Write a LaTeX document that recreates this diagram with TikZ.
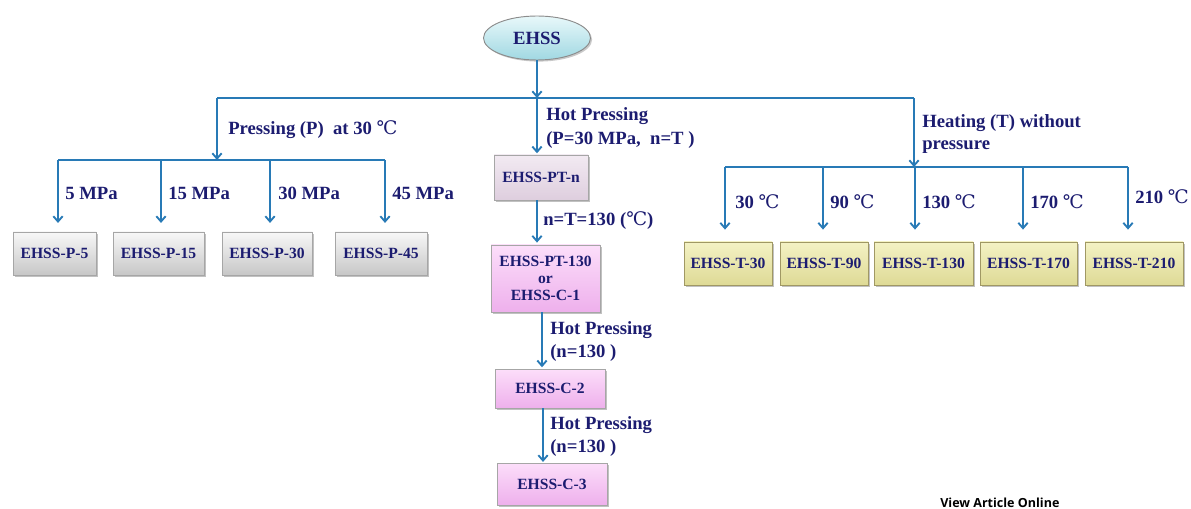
\documentclass[tikz,border=0pt]{standalone}
\usepackage{fontspec}
\setmainfont{Liberation Serif}
\newfontfamily\symf{DejaVu Serif}
\newfontfamily\vaof{Open Sans}
\usetikzlibrary{arrows.meta,shadows,calc,shapes.geometric}
\definecolor{txt}{RGB}{28,28,112}
\definecolor{ln}{RGB}{40,122,182}
\definecolor{cyT}{RGB}{232,248,250}
\definecolor{cyB}{RGB}{160,216,226}
\definecolor{lvT}{RGB}{242,234,242}
\definecolor{lvB}{RGB}{222,206,222}
\definecolor{pkT}{RGB}{252,222,250}
\definecolor{pkB}{RGB}{238,176,236}
\definecolor{ywT}{RGB}{244,242,196}
\definecolor{ywB}{RGB}{222,218,150}
\definecolor{ywD}{RGB}{160,152,100}
\newcommand{\dc}{{\symf\mdseries ℃}}
\tikzset{
  lab/.style={anchor=west,inner sep=0pt,text=txt,font=\fontsize{14}{16}\selectfont\bfseries},
  bx/.style={draw=black!35,line width=0.6pt,inner sep=0pt,text=txt,
    font=\fontsize{11.7}{12.5}\selectfont\bfseries,align=center,
    drop shadow={shadow xshift=1.2pt,shadow yshift=-1.2pt,opacity=0.35,fill=black!70}},
  graybox/.style={bx,top color=black!3,bottom color=black!22},
  lavbox/.style={bx,top color=lvT,bottom color=lvB},
  pinkbox/.style={bx,top color=pkT,bottom color=pkB},
  yelbox/.style={bx,draw=ywD,top color=ywT,bottom color=ywB},
  conn/.style={draw=ln,line width=1.6pt},
  arr/.style={conn,-{Straight Barb[length=4pt,width=7pt,line width=1.4pt]}},
}
\begin{document}
\begin{tikzpicture}[x=0.75pt,y=-0.75pt]
\useasboundingbox (0,0) rectangle (1191,509);

% root
\node[ellipse,draw=black!45,line width=0.7pt,top color=cyT,bottom color=cyB,
  minimum width=107*0.75pt,minimum height=44*0.75pt,inner sep=0pt,text=txt,
  font=\fontsize{14}{16}\selectfont\bfseries,
  drop shadow={shadow xshift=1.2pt,shadow yshift=-1.2pt,opacity=0.3,fill=black!70}] (ehss) at (537,38) {EHSS};

% junctions
\coordinate (j0) at (537,98);
\coordinate (jL) at (217,98);
\coordinate (jR) at (914,98);
\coordinate (jL2) at (217,160);
\coordinate (jR2) at (914,167);

\draw[conn] (jL) -- (jR);
\draw[arr] (ehss.south) -- (j0);

% ---------- left: pressing ----------
\node[graybox,minimum width=83*0.75pt,minimum height=43*0.75pt] (p5) at (54.5,253.5) {EHSS-P-5};
\node[graybox,minimum width=91*0.75pt,minimum height=43*0.75pt] (p15) at (158.5,253.5) {EHSS-P-15};
\node[graybox,minimum width=90*0.75pt,minimum height=43*0.75pt] (p30) at (267,253.5) {EHSS-P-30};
\node[graybox,minimum width=92*0.75pt,minimum height=43*0.75pt] (p45) at (381,253.5) {EHSS-P-45};

\draw[arr] (jL) -- (jL2);
\coordinate (a1) at (58,160);
\coordinate (a2) at (161,160);
\coordinate (a3) at (270,160);
\coordinate (a4) at (385,160);
\draw[conn] (a1) -- (a4);
\draw[arr,shorten >=6.5pt] (a1) -- (p5.north -| a1);
\draw[arr,shorten >=6.5pt] (a2) -- (p15.north -| a2);
\draw[arr,shorten >=6.5pt] (a3) -- (p30.north -| a3);
\draw[arr,shorten >=6.5pt] (a4) -- (p45.north -| a4);

\node[lab] (lp) at (228,130) {Pressing (P)\ \ at 30 \dc};
\node[lab] (l5) at (65,193) {5 MPa};
\node[lab] (l15) at (168,193) {15 MPa};
\node[lab] (l30) at (278,193) {30 MPa};
\node[lab] (l45) at (392,193) {45 MPa};

% ---------- middle: hot pressing ----------
\node[lavbox,minimum width=94*0.75pt,minimum height=45*0.75pt] (ptn) at (541,177.5) {EHSS-PT-n};
\node[pinkbox,minimum width=109*0.75pt,minimum height=67*0.75pt] (pt130) at (545.5,278.5) {EHSS-PT-130\\or\\EHSS-C-1};
\node[pinkbox,minimum width=110*0.75pt,minimum height=39*0.75pt] (c2) at (550,388.5) {EHSS-C-2};
\node[pinkbox,minimum width=110*0.75pt,minimum height=42*0.75pt] (c3) at (552,484) {EHSS-C-3};

\coordinate (m2) at (537,0);
\coordinate (m3) at (542,0);
\coordinate (m4) at (543,0);
\draw[arr,shorten >=1pt] (j0) -- (ptn.north -| j0);
\draw[arr,shorten >=1.5pt] (ptn.south -| m2) -- (pt130.north -| m2);
\draw[arr,shorten >=1pt] (pt130.south -| m3) -- (c2.north -| m3);
\draw[arr,shorten >=0.5pt] (c2.south -| m4) -- (c3.north -| m4);

\node[lab] (lh1) at (546,116) {Hot Pressing};
\node[lab] (lh1b) at (546,140) {(P=30 MPa,\ \ n=T )};
\node[lab] (ln) at (543,221) {n=T=130 (\dc)};
\node[lab] (lh2) at (550,330) {Hot Pressing};
\node[lab] (lh2b) at (550,353) {(n=130 )};
\node[lab] (lh3) at (550,425) {Hot Pressing};
\node[lab] (lh3b) at (550,448) {(n=130 )};

% ---------- right: heating ----------
\node[yelbox,minimum width=88*0.75pt,minimum height=43*0.75pt] (t30) at (728,263.5) {EHSS-T-30};
\node[yelbox,minimum width=88*0.75pt,minimum height=43*0.75pt] (t90) at (824,263.5) {EHSS-T-90};
\node[yelbox,minimum width=99*0.75pt,minimum height=43*0.75pt] (t130) at (923.5,263.5) {EHSS-T-130};
\node[yelbox,minimum width=97*0.75pt,minimum height=43*0.75pt] (t170) at (1028.5,263.5) {EHSS-T-170};
\node[yelbox,minimum width=98*0.75pt,minimum height=43*0.75pt] (t210) at (1134,263.5) {EHSS-T-210};

\draw[arr] (jR) -- (jR2);
\coordinate (b1) at (725,167);
\coordinate (b2) at (823,167);
\coordinate (b3) at (915,167);
\coordinate (b4) at (1023,167);
\coordinate (b5) at (1128,167);
\draw[conn] (b1) -- (b5);
\draw[arr,shorten >=9pt] (b1) -- (t30.north -| b1);
\draw[arr,shorten >=9pt] (b2) -- (t90.north -| b2);
\draw[arr,shorten >=9pt] (b3) -- (t130.north -| b3);
\draw[arr,shorten >=9pt] (b4) -- (t170.north -| b4);
\draw[arr,shorten >=9pt] (b5) -- (t210.north -| b5);

\node[lab] (lhe) at (922,123) {Heating (T) without};
\node[lab] (lhe2) at (922,147) {pressure};
\node[lab] (lt30) at (735,202) {30 \dc};
\node[lab] (lt90) at (830,202) {90 \dc};
\node[lab] (lt130) at (922,202) {130 \dc};
\node[lab] (lt170) at (1030,202) {170 \dc};
\node[lab] (lt210) at (1135,197) {210 \dc};

\node[anchor=west,inner sep=0pt,font=\vaof\bfseries\fontsize{9.4}{11}\selectfont] (vao) at (940,503) {View Article Online};
\end{tikzpicture}
\end{document}
